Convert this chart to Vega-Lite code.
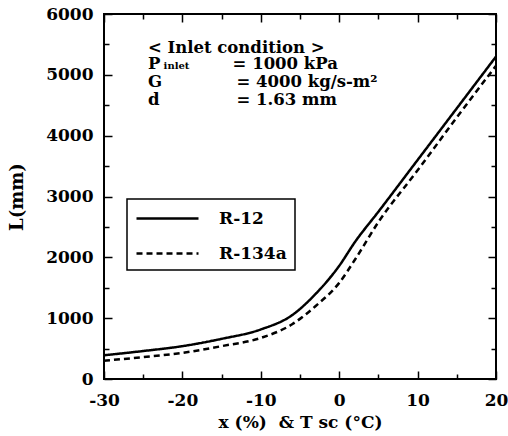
{
  "$schema": "https://vega.github.io/schema/vega-lite/v6.json",
  "width": 392,
  "height": 365,
  "autosize": {"type": "none"},
  "padding": {"left": 104, "top": 14, "right": 12, "bottom": 57},
  "background": "white",
  "config": {
    "view": {"stroke": "black", "strokeWidth": 2},
    "font": "DejaVu Serif",
    "axis": {
      "domain": false,
      "grid": false,
      "labelFlush": false,
      "labelFont": "DejaVu Serif",
      "labelFontWeight": "bold",
      "labelFontSize": 17,
      "labelColor": "black",
      "tickColor": "black",
      "tickWidth": 1.5,
      "titleFont": "DejaVu Serif",
      "titleFontWeight": "bold",
      "titleFontSize": 17,
      "titleColor": "black"
    }
  },
  "datasets": {
    "curves": [
      {"x": -30, "L": 390, "fluid": "R-12"},
      {"x": -25, "L": 460, "fluid": "R-12"},
      {"x": -20, "L": 540, "fluid": "R-12"},
      {"x": -15, "L": 660, "fluid": "R-12"},
      {"x": -10, "L": 815, "fluid": "R-12"},
      {"x": -6, "L": 1050, "fluid": "R-12"},
      {"x": -3, "L": 1400, "fluid": "R-12"},
      {"x": 0, "L": 1860, "fluid": "R-12"},
      {"x": 2, "L": 2250, "fluid": "R-12"},
      {"x": 5, "L": 2750, "fluid": "R-12"},
      {"x": 10, "L": 3600, "fluid": "R-12"},
      {"x": 15, "L": 4450, "fluid": "R-12"},
      {"x": 20, "L": 5300, "fluid": "R-12"},
      {"x": -30, "L": 300, "fluid": "R-134a"},
      {"x": -25, "L": 360, "fluid": "R-134a"},
      {"x": -20, "L": 430, "fluid": "R-134a"},
      {"x": -15, "L": 540, "fluid": "R-134a"},
      {"x": -10, "L": 675, "fluid": "R-134a"},
      {"x": -6, "L": 900, "fluid": "R-134a"},
      {"x": -3, "L": 1200, "fluid": "R-134a"},
      {"x": 0, "L": 1580, "fluid": "R-134a"},
      {"x": 2, "L": 1960, "fluid": "R-134a"},
      {"x": 5, "L": 2580, "fluid": "R-134a"},
      {"x": 10, "L": 3430, "fluid": "R-134a"},
      {"x": 15, "L": 4300, "fluid": "R-134a"},
      {"x": 20, "L": 5150, "fluid": "R-134a"}
    ],
    "notes": [
      {"x": -24.4, "L": 5441, "text": "< Inlet condition >"},
      {"x": -24.4, "L": 5178, "text": "P"},
      {"x": -13.6, "L": 5178, "text": "= 1000 kPa"},
      {"x": -24.4, "L": 4882, "text": "G"},
      {"x": -13.1, "L": 4882, "text": "= 4000 kg/s-m²"},
      {"x": -24.4, "L": 4586, "text": "d"},
      {"x": -13.1, "L": 4586, "text": "= 1.63 mm"}
    ],
    "subs": [
      {"x": -22.4, "L": 5178, "text": "inlet"}
    ]
  },
  "layer": [
    {
      "data": {"name": "curves"},
      "mark": {"type": "line", "color": "black", "strokeWidth": 2.5, "interpolate": "monotone"},
      "encoding": {
        "x": {
          "field": "x", "type": "quantitative",
          "scale": {"domain": [-30, 20], "nice": false, "zero": false, "padding": 0},
          "axis": {
            "title": "x (%)\u00a0 &\u00a0T\u00a0sc\u00a0(°C)",
            "values": [-30, -25, -20, -15, -10, -5, 0, 5, 10, 15, 20],
            "labelExpr": "datum.value % 10 === 0 ? ('' + datum.value) : ''",
            "tickSize": {"condition": {"test": "datum.value % 10 === 0", "value": -8}, "value": -5},
            "labelPadding": 21,
            "titlePadding": 6
          }
        },
        "y": {
          "field": "L", "type": "quantitative",
          "scale": {"domain": [0, 6000], "nice": false, "zero": false, "padding": 0},
          "axis": {
            "title": "L(mm)",
            "titleFontSize": 18,
            "titleX": -78,
            "values": [0, 500, 1000, 1500, 2000, 2500, 3000, 3500, 4000, 4500, 5000, 5500, 6000],
            "labelExpr": "datum.value % 1000 === 0 ? ('' + datum.value) : ''",
            "tickSize": {"condition": {"test": "datum.value % 1000 === 0", "value": -8}, "value": -5},
            "labelPadding": 19,
            "titlePadding": 0
          }
        },
        "strokeDash": {
          "field": "fluid", "type": "nominal",
          "scale": {"domain": ["R-12", "R-134a"], "range": [[1, 0], [6, 4]]},
          "legend": {
            "title": null,
            "orient": "none",
            "legendX": 23,
            "legendY": 185,
            "symbolType": "M-3.1,0H3.1",
            "symbolSize": 400,
            "symbolOffset": 21,
            "symbolStrokeWidth": 2.5,
            "symbolStrokeColor": "black",
            "labelFont": "DejaVu Serif",
            "labelFontWeight": "bold",
            "labelFontSize": 17,
            "labelColor": "black",
            "labelOffset": 40,
            "rowPadding": 15,
            "padding": 8,
            "strokeColor": "black",
            "fillColor": "white",
            "encode": {"legend": {"update": {"strokeWidth": {"value": 1.5}}}}
          }
        }
      }
    },
    {
      "data": {"name": "curves"},
      "mark": {"type": "point", "opacity": 0},
      "encoding": {
        "x": {
          "field": "x", "type": "quantitative",
          "scale": {"domain": [-30, 20], "nice": false, "zero": false, "padding": 0},
          "axis": {
            "orient": "top", "title": null, "labels": false,
            "values": [-30, -25, -20, -15, -10, -5, 0, 5, 10, 15, 20],
            "tickSize": {"condition": {"test": "datum.value % 10 === 0", "value": -8}, "value": -5}
          }
        },
        "y": {
          "field": "L", "type": "quantitative",
          "scale": {"domain": [0, 6000], "nice": false, "zero": false, "padding": 0},
          "axis": {
            "orient": "right", "title": null, "labels": false,
            "values": [0, 500, 1000, 1500, 2000, 2500, 3000, 3500, 4000, 4500, 5000, 5500, 6000],
            "tickSize": {"condition": {"test": "datum.value % 1000 === 0", "value": -8}, "value": -5}
          }
        }
      }
    },
    {
      "data": {"name": "notes"},
      "mark": {"type": "text", "align": "left", "baseline": "middle", "font": "DejaVu Serif", "fontWeight": "bold", "fontSize": 16.5, "color": "black"},
      "encoding": {
        "x": {"field": "x", "type": "quantitative", "axis": null, "scale": {"domain": [-30, 20], "nice": false, "zero": false, "padding": 0}},
        "y": {"field": "L", "type": "quantitative", "axis": null, "scale": {"domain": [0, 6000], "nice": false, "zero": false, "padding": 0}},
        "text": {"field": "text"}
      }
    },
    {
      "data": {"name": "subs"},
      "mark": {"type": "text", "align": "left", "baseline": "middle", "dy": 2, "font": "DejaVu Serif", "fontWeight": "bold", "fontSize": 10, "color": "black"},
      "encoding": {
        "x": {"field": "x", "type": "quantitative", "axis": null, "scale": {"domain": [-30, 20], "nice": false, "zero": false, "padding": 0}},
        "y": {"field": "L", "type": "quantitative", "axis": null, "scale": {"domain": [0, 6000], "nice": false, "zero": false, "padding": 0}},
        "text": {"field": "text"}
      }
    }
  ],
  "resolve": {"axis": {"x": "independent", "y": "independent"}}
}
